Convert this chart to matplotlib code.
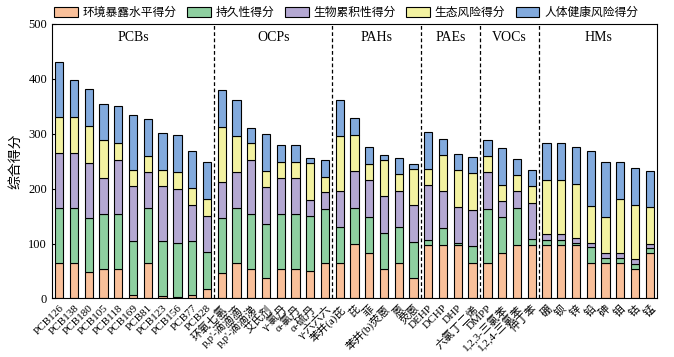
#!/usr/bin/env python3
import numpy as np
import matplotlib.pyplot as plt

plt.rcParams['font.family'] = ['Liberation Serif', 'Noto Sans CJK SC', 'DejaVu Sans']
plt.rcParams['axes.unicode_minus'] = False

# ========= Daten =========
groups = ["PCBs", "OCPs", "PAHs", "PAEs", "VOCs", "HMs"]
group_sizes = [11, 8, 6, 4, 4, 8]

labels = ["PCB126", "PCB138", "PCB180", "PCB105", "PCB118", "PCB169", "PCB81",
          "PCB123", "PCB156", "PCB77", "PCB28",
          "环氧七氯", "p,p'-滴滴滴", "p,p'-滴滴涕", "艾氏剂", "γ-氯丹", "α-氯丹",
          "α-硫丹", "γ-六六六",
          "苯并(a)芘", "芘", "菲", "苯并(b)荧蒽", "蒽", "荧蒽",
          "DEHP", "DCHP", "DHP", "六氯丁二烯",
          "DMPP", "1,2,3-三氯苯", "1,2,4-三氯苯", "仲丁苯",
          "硼", "钡", "锌", "铅", "砷", "钼", "钴", "锰"]

expo = [64, 65, 48, 53, 53, 6, 64, 5, 2, 6, 18,
        47, 64, 53, 37, 53, 53, 50, 64,
        64, 99, 83, 53, 64, 37,
        98, 98, 98, 65,
        64, 82, 98, 98,
        98, 98, 98, 64, 64, 64, 53, 82]
persist = [100, 99, 99, 100, 100, 98, 100, 99, 99, 98, 67,
           100, 100, 100, 99, 100, 100, 100, 99,
           66, 66, 66, 67, 66, 66,
           9, 31, 3, 30,
           99, 66, 67, 10,
           9, 9, 3, 30, 9, 9, 9, 9]
bioacc = [100, 100, 100, 67, 100, 100, 66, 100, 99, 67, 66,
          66, 66, 99, 67, 66, 66, 30, 30,
          66, 67, 67, 66, 66, 67,
          99, 66, 66, 67,
          67, 30, 31, 66,
          10, 10, 9, 7, 9, 9, 9, 9]
eco = [66, 66, 67, 68, 31, 30, 30, 30, 31, 31, 31,
       99, 66, 31, 29, 30, 30, 66, 29,
       100, 66, 29, 66, 30, 66,
       30, 66, 67, 66,
       29, 29, 28, 30,
       99, 99, 98, 68, 66, 99, 99, 66]
health = [101, 68, 67, 66, 66, 100, 67, 67, 66, 66, 66,
          68, 66, 28, 67, 30, 30, 9, 30,
          66, 30, 30, 10, 29, 9,
          67, 30, 29, 30,
          30, 67, 30, 30,
          67, 67, 67, 99, 100, 67, 67, 67]

series = [expo, persist, bioacc, eco, health]
names = ["环境暴露水平得分", "持久性得分", "生物累积性得分", "生态风险得分", "人体健康风险得分"]
colors = ["#F9C09A", "#8ECFA0", "#B4A8D2", "#F3F2A1", "#82AADD"]

# ========= Plot =========
fig = plt.figure(figsize=(6.74, 3.57), dpi=100)
ax = fig.add_axes([0.077, 0.164, 0.898, 0.769])

x = np.arange(len(labels))
bottom = np.zeros(len(labels))
for vals, name, c in zip(series, names, colors):
    vals = np.array(vals, dtype=float)
    ax.bar(x, vals, 0.56, bottom=bottom, color=c, edgecolor="black",
           linewidth=0.8, label=name, zorder=2)
    bottom += vals

# Gruppen-Trennlinien + Titel
start = 0
for g, n in zip(groups, group_sizes):
    ax.text(start + (n - 1) / 2, 475, g, ha="center", va="center", fontsize=10)
    start += n
    if start < len(labels):
        ax.axvline(start - 0.5, color="black", linestyle=(0, (3, 2)), linewidth=0.9, zorder=1)

ax.set_xlim(-0.5, len(labels) - 0.5)
ax.set_ylim(0, 500)
ax.set_yticks(np.arange(0, 501, 100))
ax.set_xticks(x)
ax.set_xticklabels(labels, rotation=45, ha="right", rotation_mode="anchor", fontsize=8)
ax.tick_params(axis="both", direction="in", length=3, width=0.8)
ax.tick_params(axis="y", labelsize=9)
ax.set_ylabel("综合得分", fontsize=10)
for s in ax.spines.values():
    s.set_linewidth(0.8)

fig.legend(loc="upper left", bbox_to_anchor=(0.065, 1.01), ncol=5, frameon=False,
           fontsize=8.5, handlelength=2.0, handleheight=0.9, columnspacing=0.9,
           handletextpad=0.4)

fig.savefig("out.png", dpi=100)
